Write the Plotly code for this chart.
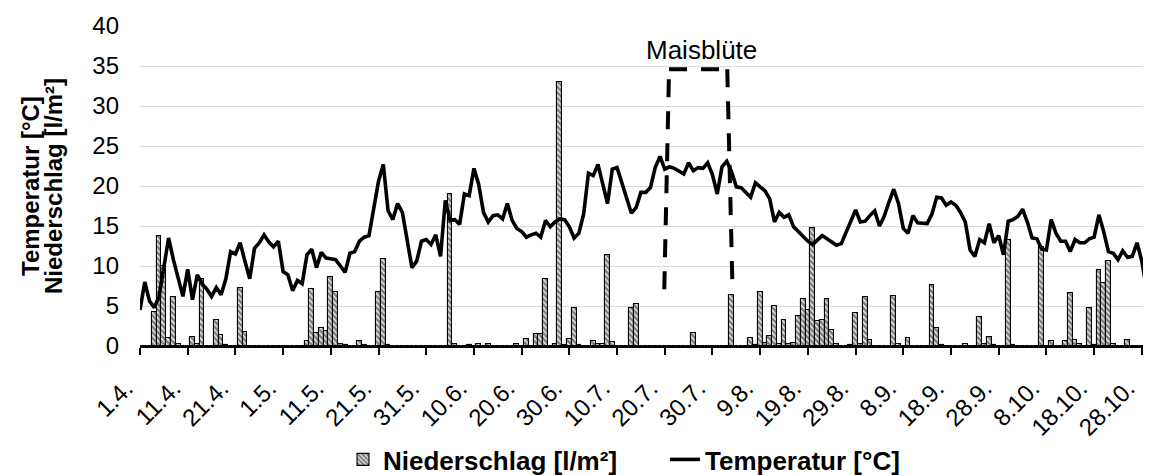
import plotly.graph_objects as go
import pandas as pd

# ---------------- data ----------------
START = "2019-04-01"
N_DAYS = 214  # 1.4. - 31.10.
dates = pd.date_range(START, periods=N_DAYS, freq="D")

temperatur = [
    4.5, 8.0, 5.6, 4.8, 6.2, 10.0, 13.5, 10.8, 8.4, 6.2,
    9.6, 5.8, 8.9, 7.8, 7.1, 6.2, 7.3, 6.4, 8.4, 11.8,
    11.5, 12.9, 10.6, 8.4, 12.2, 12.9, 13.9, 13.0, 12.4, 13.1,
    9.3, 8.9, 6.9, 8.2, 7.8, 11.4, 12.1, 9.8, 11.7, 11.0,
    10.9, 10.8, 10.0, 9.2, 11.6, 11.8, 13.1, 13.6, 13.8, 17.3,
    20.6, 22.7, 16.9, 15.8, 17.8, 16.7, 13.3, 9.8, 10.6, 13.1,
    13.3, 12.7, 13.9, 11.2, 18.2, 15.7, 15.8, 15.2, 19.0, 18.8,
    22.2, 20.2, 16.7, 15.5, 16.3, 16.4, 15.9, 17.8, 15.7, 14.7,
    14.3, 13.6, 13.9, 14.1, 13.6, 15.7, 14.9, 15.5, 15.9, 15.8,
    14.9, 13.5, 14.1, 16.5, 21.6, 21.3, 22.7, 20.2, 17.8, 22.1,
    22.3, 20.4, 18.4, 16.6, 17.3, 19.2, 19.2, 19.8, 22.3, 23.7,
    22.1, 22.4, 22.2, 21.8, 21.5, 22.9, 21.9, 22.3, 22.2, 22.9,
    21.4, 19.0, 22.4, 23.1, 21.8, 19.9, 19.8, 19.2, 18.6, 20.4,
    19.9, 19.4, 18.4, 15.5, 16.7, 16.1, 16.4, 14.9, 14.3, 13.7,
    13.1, 12.7, 13.3, 13.8, 13.4, 13.0, 12.6, 12.8, 14.2, 15.6,
    17.0, 15.5, 15.6, 16.3, 16.9, 15.0, 16.2, 18.0, 19.6, 17.8,
    14.7, 14.1, 16.3, 15.4, 15.4, 15.3, 16.5, 18.6, 18.5, 17.6,
    18.0, 17.6, 16.7, 15.5, 12.0, 11.2, 13.3, 12.9, 15.3, 12.9,
    13.8, 11.4, 15.6, 15.8, 16.2, 17.1, 15.5, 13.5, 13.4, 12.1,
    12.0, 15.8, 14.1, 13.1, 13.1, 11.8, 13.3, 12.9, 12.9, 13.4,
    13.6, 16.4, 14.3, 11.8, 11.6, 10.8, 11.9, 11.1, 11.2, 12.9,
    10.6, 7.1, 6.1, 11.2,
]

niederschlag = [
    0, 0, 0, 4.3, 13.7, 10.0, 1.0, 6.1, 0.2, 0,
    0, 1.1, 0.2, 8.4, 0, 0, 3.3, 1.4, 0.1, 0,
    0, 7.3, 1.8, 0, 0, 0, 0, 0, 0, 0,
    0, 0, 0, 0, 0, 0.6, 7.1, 1.6, 2.2, 1.9,
    8.6, 6.7, 0.2, 0.1, 0, 0, 0.6, 0.1, 0, 0,
    6.7, 10.9, 0.1, 0, 0, 0, 0, 0, 0, 0,
    0, 0, 0, 0, 0, 19.0, 0.2, 0, 0, 0.1,
    0, 0.2, 0, 0.2, 0, 0, 0, 0, 0, 0.2,
    0, 0.9, 0, 1.5, 1.5, 8.4, 0, 0.2, 33.0, 0.1,
    0.9, 4.8, 0.1, 0, 0, 0.6, 0.3, 0.3, 11.4, 0.5,
    0, 0, 0, 4.7, 5.2, 0, 0, 0, 0, 0,
    0, 0, 0, 0, 0, 0, 1.6, 0, 0, 0,
    0, 0, 0, 0, 6.4, 0, 0, 0, 1.0, 0.1,
    6.7, 0.4, 1.2, 5.0, 0.3, 3.2, 0.2, 0.4, 3.8, 5.9,
    4.5, 14.8, 3.1, 3.3, 5.9, 2.0, 0.2, 0, 0, 0.1,
    4.1, 0.2, 6.1, 0.7, 0, 0, 0, 0, 6.2, 0.2,
    0, 1.0, 0, 0, 0, 0, 7.6, 2.3, 0.1, 0,
    0, 0, 0, 0.2, 0, 0, 3.6, 0.2, 1.1, 0.1,
    0, 0, 13.3, 0.1, 0, 0, 0, 0, 0, 12.4,
    0, 0.6, 0, 0, 0.6, 6.6, 0.8, 0.3, 0, 4.8,
    0.1, 9.5, 7.9, 10.6, 0.2, 0, 0, 0.7, 0, 0,
    0, 0, 0, 0,
]

tick_labels = ["1.4.", "11.4.", "21.4.", "1.5.", "11.5.", "21.5.", "31.5.",
               "10.6.", "20.6.", "30.6.", "10.7.", "20.7.", "30.7.", "9.8.",
               "19.8.", "29.8.", "8.9.", "18.9.", "28.9.", "8.10.", "18.10.",
               "28.10."]
tick_dates = pd.date_range(START, periods=len(tick_labels), freq="10D")

y_ticks = [0, 5, 10, 15, 20, 25, 30, 35, 40]

# ---------------- layout helpers ----------------
FONT = "Arial, 'Liberation Sans', sans-serif"
t0 = pd.Timestamp(START)
def day(d):
    return t0 + pd.Timedelta(days=d)

L_MARGIN, R_MARGIN = 132, 0
PLOT_W = 1151 - L_MARGIN - R_MARGIN
def px_to_paper(px):
    return (px - L_MARGIN) / PLOT_W

# Maisblüte bracket (day offset, value) corners
BRACKET = [(109.9, 7.1), (110.9, 34.6), (123.1, 34.6), (124.2, 7.1)]

fig = go.Figure()
fig.add_trace(go.Bar(
    x=dates, y=niederschlag, name="<b>Niederschlag [l/m²]</b>",
    marker=dict(color="white",
                line=dict(color="black", width=1.1),
                pattern=dict(shape="\\", fgcolor="black", bgcolor="white",
                             size=4, solidity=0.7)),
))
fig.add_trace(go.Scatter(
    x=dates, y=temperatur, name="<b>Temperatur [°C]</b>", mode="lines",
    line=dict(color="black", width=3.6),
))

for (xa, ya), (xb, yb) in zip(BRACKET[:-1], BRACKET[1:]):
    fig.add_shape(type="line", xref="x", yref="y",
                  x0=day(xa), y0=ya, x1=day(xb), y1=yb,
                  line=dict(color="black", width=4, dash="18px,14px"))

fig.add_annotation(x=day(117.7), y=37.0, xref="x", yref="y",
                   text="Maisblüte", showarrow=False,
                   font=dict(family=FONT, size=26, color="black"))

# axis titles (two rotated lines)
fig.add_annotation(x=px_to_paper(22), y=0.5, xref="paper", yref="paper",
                   xanchor="center", yanchor="middle",
                   text="<b>Temperatur [°C]</b>", textangle=-90, showarrow=False,
                   font=dict(family=FONT, size=24, color="black"))
fig.add_annotation(x=px_to_paper(45), y=0.5, xref="paper", yref="paper",
                   xanchor="center", yanchor="middle",
                   text="<b>Niederschlag [l/m²]</b>", textangle=-90, showarrow=False,
                   font=dict(family=FONT, size=24, color="black"))

fig.update_layout(
    width=1151, height=475,
    margin=dict(l=L_MARGIN, r=R_MARGIN, t=18, b=130),
    paper_bgcolor="white", plot_bgcolor="white",
    font=dict(family=FONT, size=24, color="black"),
    bargap=0,
    showlegend=True,
    legend=dict(orientation="h", x=px_to_paper(335), xanchor="left",
                y=-0.355, yanchor="middle",
                font=dict(family=FONT, size=26, color="black"),
                entrywidth=277, entrywidthmode="pixels",
                itemwidth=30),
    xaxis=dict(
        type="date",
        range=[day(0), day(213.6)],
        tickmode="array", tickvals=tick_dates, ticktext=tick_labels,
        tickangle=-45,
        ticklabelshift=-14,
        ticklabelstandoff=10,
        showgrid=False, showline=True, linecolor="black", linewidth=1.5,
        ticks="outside", ticklen=7, tickwidth=1.5, tickcolor="black",
        tickfont=dict(family=FONT, size=24, color="black"),
        zeroline=False,
    ),
    yaxis=dict(
        range=[0, 40], tickmode="array", tickvals=y_ticks,
        showgrid=True, gridcolor="#d9d9d9", gridwidth=1.3,
        zeroline=False, showline=False, ticks="",
        tickfont=dict(family=FONT, size=24, color="black"),
        ticklabelstandoff=20,
    ),
)

fig.write_html("out.html")
